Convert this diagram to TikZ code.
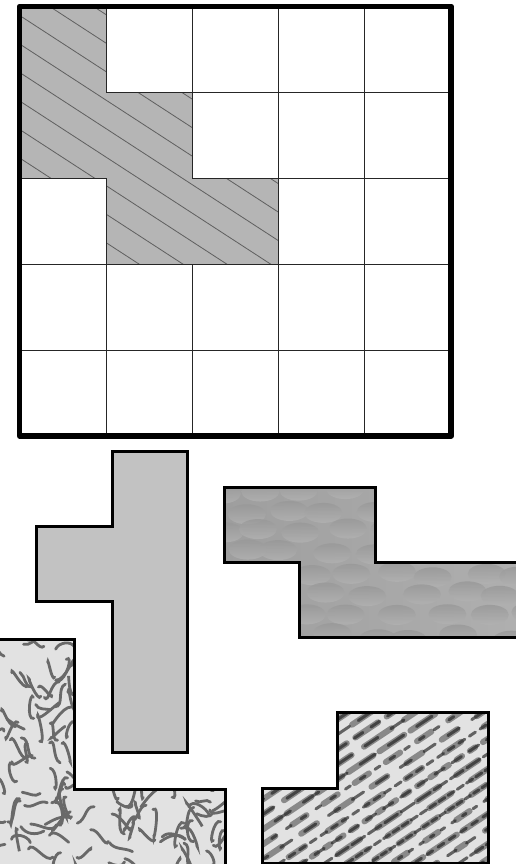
\documentclass[tikz,border=0pt]{standalone}
\usepackage{xcolor}
\definecolor{CellShade}{RGB}{181,181,181}
\definecolor{HatchGray}{RGB}{95,95,95}
\definecolor{TeeGray}{RGB}{194,194,194}
\definecolor{BumpLeft}{RGB}{158,158,158}
\definecolor{BumpRight}{RGB}{176,176,176}
\definecolor{BumpDark}{RGB}{152,152,152}
\definecolor{BumpLight}{RGB}{178,178,178}
\definecolor{SquigFill}{RGB}{226,226,226}
\definecolor{SquigGray}{RGB}{105,105,105}
\definecolor{StreakFill}{RGB}{226,226,226}
\definecolor{StreakDark}{RGB}{30,30,30}
\usepackage{tikz}
\usetikzlibrary{calc}

\begin{document}
\begin{tikzpicture}[x=1pt,y=-1pt,
  frame/.style={draw=black,line width=5.5pt,line join=round},
  gridline/.style={draw=black!85,line width=0.9pt},
  hatch/.style={draw=HatchGray,line width=0.8pt},
  piece/.style={draw=black,line width=3pt,line join=miter},
  squig/.style={draw=SquigGray,line width=2.8pt,line cap=round},
  streak/.style={draw=StreakDark,line cap=round},
  bump/.style={top color=BumpDark,bottom color=BumpLight}
]
  \useasboundingbox (0,0) rectangle (515,864);
  \def\cw{86.3}\def\ch{85.94}
  \coordinate (g00) at (19.7,6.3);
  \coordinate (g55) at ({19.7+5*\cw},{6.3+5*\ch});

  \foreach \i in {1,...,4}{
    \draw[gridline] ($(g00)+(\i*\cw,0)$) -- ++(0,{5*\ch});
    \draw[gridline] ($(g00)+(0,\i*\ch)$) -- ++({5*\cw},0);
  }
  % shaded staircase in the grid
  \def\stair{(g00) -- ++(\cw,0) -- ++(0,\ch) -- ++(\cw,0) -- ++(0,\ch) -- ++(\cw,0)
    -- ++(0,\ch) -- ++({-2*\cw},0) -- ++(0,{-\ch}) -- ++({-\cw},0) -- cycle}
  \fill[CellShade] \stair;
  \begin{scope}
    \clip \stair;
    \foreach \k in {-7,...,9}
      \draw[hatch] (0,{2.7+28.5*\k}) -- ++(400,260);
  \end{scope}
  \draw[gridline] \stair;
  \draw[frame] (g00) rectangle (g55);

  % tee piece
  \draw[piece,fill=TeeGray] (112,451) -- (187,451) -- (187,752) -- (112,752)
    -- (112,601) -- (36,601) -- (36,526) -- (112,526) -- cycle;

  % dimpled piece
  \def\zig{(224,487) -- (375,487) -- (375,562) -- (530,562) -- (530,637)
    -- (299,637) -- (299,562) -- (224,562) -- cycle}
  \shade[left color=BumpLeft,right color=BumpRight] \zig;
  \begin{scope}
    \clip \zig;
    \pgfmathsetseed{11}
    \foreach \r in {0,...,7}
      \foreach \c in {0,...,7}{
        \pgfmathsetmacro{\bx}{210+44*\c+mod(\r,2)*22+rnd*18}
        \pgfmathsetmacro{\by}{486+21*\r+rnd*8}
        \shade[bump,opacity=0.8] (\bx,\by) ellipse (19 and 10);
      }
  \end{scope}
  \draw[piece] \zig;

  % squiggle piece
  \def\ell{(-3,639) -- (74,639) -- (74,789) -- (225,789) -- (225,868) -- (-3,868) -- cycle}
  \fill[SquigFill] \ell;
  \begin{scope}
    \clip \ell;
    \pgfmathsetseed{5}
    \foreach \i in {1,...,120}{
      \pgfmathsetmacro{\px}{\i<68 ? -15+rnd*90 : 55+rnd*175}
      \pgfmathsetmacro{\py}{\i<68 ? 625+rnd*245 : 775+rnd*95}
      \pgfmathsetmacro{\ang}{rnd*360}
      \pgfmathsetmacro{\len}{14+rnd*12}
      \pgfmathsetmacro{\da}{rnd*180-90}
      \pgfmathsetmacro{\db}{rnd*180-90}
      \draw[squig] (\px,\py) to[out=\ang+\da,in=\ang+180+\db] ++({\len*cos(\ang)},{\len*sin(\ang)});
    }
  \end{scope}
  \draw[piece] (-3,639) -- (74,639) -- (74,789) -- (225,789) -- (225,868);

  % streaked piece
  \def\pee{(337,712) -- (488,712) -- (488,863) -- (262,863) -- (262,788) -- (337,788) -- cycle}
  \fill[StreakFill] \pee;
  \begin{scope}
    \clip \pee;
    \pgfmathsetseed{3}
    \foreach \k in {0,...,21}{
      \pgfmathsetmacro{\a}{6+rnd*30}
      \pgfmathsetmacro{\b}{6+rnd*22}
      \pgfmathsetmacro{\p}{rnd*40}
      \pgfmathsetmacro{\c}{3+rnd*16}
      \pgfmathsetmacro{\d}{3+rnd*14}
      \pgfmathsetmacro{\q}{rnd*40}
      \draw[streak,line width=6pt,opacity=0.45,dash pattern=on \a pt off \b pt,dash phase=\p pt]
        (250,{718+15*\k}) -- ++(260,-174);
      \draw[streak,line width=3pt,opacity=0.65,dash pattern=on \c pt off \d pt,dash phase=\q pt]
        (250,{718+15*\k}) -- ++(260,-174);
    }
  \end{scope}
  \draw[piece] \pee;
\end{tikzpicture}
\end{document}
